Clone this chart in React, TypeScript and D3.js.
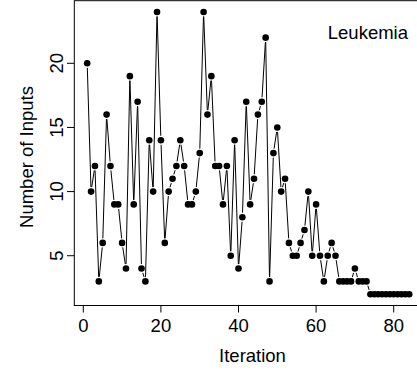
import React, { useEffect, useRef } from 'react';
import * as d3 from 'd3';

// Number of inputs chosen at each iteration (iterations 1..84)
const inputs: number[] = [
  20, 10, 12, 3, 6, 16, 12, 9, 9, 6,
  4, 19, 9, 17, 4, 3, 14, 10, 24, 14,
  6, 10, 11, 12, 14, 12, 9, 9, 10, 13,
  24, 16, 19, 12, 12, 9, 12, 5, 14, 4,
  8, 17, 9, 11, 16, 17, 22, 3, 13, 15,
  10, 11, 6, 5, 5, 6, 7, 10, 5, 9,
  5, 3, 5, 6, 5, 3, 3, 3, 3, 4,
  3, 3, 3, 2, 2, 2, 2, 2, 2, 2,
  2, 2, 2, 2,
];
const iterations: number[] = inputs.map((_, i) => i + 1);
const xTicks: number[] = [0, 20, 40, 60, 80];
const yTicks: number[] = [5, 10, 15, 20];
const title = 'Leukemia';

function App() {
  const svgRef = useRef<SVGSVGElement>(null);

  useEffect(() => {
    const width = 417;
    const height = 374;
    const font = '"Liberation Sans", Arial, sans-serif';
    const fs = 18.5;

    const svg = d3.select(svgRef.current)
      .attr('width', width)
      .attr('height', height);
    svg.selectAll('*').remove();

    // R style 4% axis expansion
    const xPad = (d3.max(iterations)! - d3.min(iterations)!) * 0.04;
    const yPad = (d3.max(inputs)! - d3.min(inputs)!) * 0.04;
    const x = d3.scaleLinear()
      .domain([d3.min(iterations)! - xPad, d3.max(iterations)! + xPad])
      .range([74.3, 422.1]);
    const y = d3.scaleLinear()
      .domain([d3.min(inputs)! - yPad, d3.max(inputs)! + yPad])
      .range([305.5, 0.7]);

    // plot box (right side runs off the image)
    svg.append('rect')
      .attr('x', x.range()[0])
      .attr('y', y.range()[1])
      .attr('width', x.range()[1] - x.range()[0])
      .attr('height', y.range()[0] - y.range()[1])
      .attr('fill', 'none')
      .attr('stroke', 'black')
      .attr('stroke-width', 1);

    // x axis
    const xAxis = svg.append('g');
    xAxis.append('line')
      .attr('x1', x(xTicks[0])).attr('x2', x(xTicks[xTicks.length - 1]))
      .attr('y1', 305.5).attr('y2', 305.5)
      .attr('stroke', 'black');
    xAxis.selectAll('line.tick')
      .data(xTicks)
      .enter()
      .append('line')
      .attr('class', 'tick')
      .attr('x1', d => x(d)).attr('x2', d => x(d))
      .attr('y1', 305.5).attr('y2', 312.5)
      .attr('stroke', 'black');
    xAxis.selectAll('text')
      .data(xTicks)
      .enter()
      .append('text')
      .text(d => d)
      .attr('x', d => x(d))
      .attr('y', 332)
      .attr('text-anchor', 'middle')
      .style('font-family', font)
      .style('font-size', fs + 'px');

    // y axis
    const yAxis = svg.append('g');
    yAxis.selectAll('line')
      .data(yTicks)
      .enter()
      .append('line')
      .attr('x1', 67).attr('x2', 74.3)
      .attr('y1', d => y(d)).attr('y2', d => y(d))
      .attr('stroke', 'black');
    yAxis.selectAll('text')
      .data(yTicks)
      .enter()
      .append('text')
      .text(d => d)
      .attr('transform', d => `translate(63,${y(d)}) rotate(-90)`)
      .attr('text-anchor', 'middle')
      .style('font-family', font)
      .style('font-size', fs + 'px');

    // axis titles
    svg.append('text')
      .text('Iteration')
      .attr('x', (x(0) + x(80)) / 2 + 14)
      .attr('y', 362)
      .attr('text-anchor', 'middle')
      .style('font-family', font)
      .style('font-size', fs + 'px');
    svg.append('text')
      .text('Number of Inputs')
      .attr('transform', 'translate(33,157) rotate(-90)')
      .attr('text-anchor', 'middle')
      .style('font-family', font)
      .style('font-size', fs + 'px');

    svg.append('text')
      .text(title)
      .attr('x', 408)
      .attr('y', 39)
      .attr('text-anchor', 'end')
      .style('font-family', font)
      .style('font-size', fs + 'px');

    // type="b": line segments with gaps around the points
    const gap = 4.5;
    const pts = inputs.map((v, i) => [x(iterations[i]), y(v)]);
    const segs = d3.pairs(pts)
      .map(([a, b]) => {
        const dx = b[0] - a[0];
        const dy = b[1] - a[1];
        const len = Math.hypot(dx, dy);
        if (len <= 2 * gap) return null;
        const ux = dx / len, uy = dy / len;
        return [a[0] + ux * gap, a[1] + uy * gap, b[0] - ux * gap, b[1] - uy * gap];
      })
      .filter(s => s !== null) as number[][];

    svg.append('g')
      .selectAll('line')
      .data(segs)
      .enter()
      .append('line')
      .attr('x1', d => d[0]).attr('y1', d => d[1])
      .attr('x2', d => d[2]).attr('y2', d => d[3])
      .attr('stroke', 'black')
      .attr('stroke-width', 1);

    svg.append('g')
      .selectAll('circle')
      .data(pts)
      .enter()
      .append('circle')
      .attr('cx', d => d[0])
      .attr('cy', d => d[1])
      .attr('r', 3.3)
      .attr('fill', 'black');
  }, []);

  return (
    <svg ref={svgRef} style={{ position: 'absolute', left: 0, top: 0 }}></svg>
  );
}

export default App;
